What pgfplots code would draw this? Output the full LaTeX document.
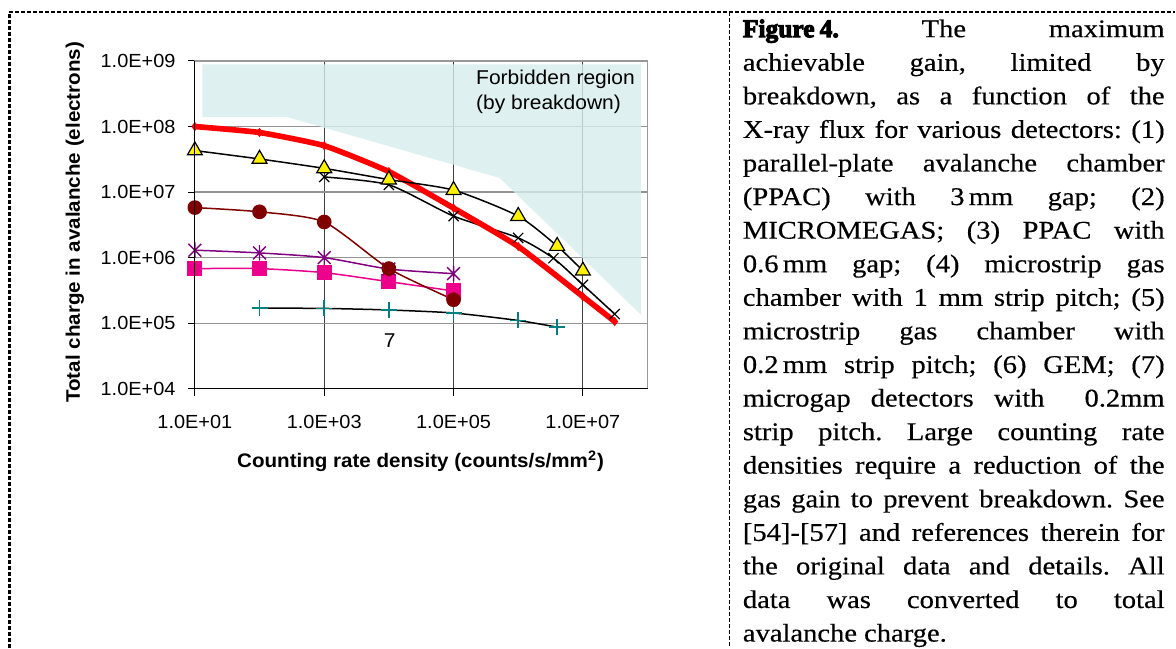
\documentclass[border=0pt]{standalone}
\usepackage{pgfplots}
\pgfplotsset{compat=1.18}
\usepackage{fontspec}
\setmainfont{Liberation Serif}
\newfontfamily\capfont[FakeStretch=1.12,FakeBold=0.4]{Liberation Serif}
\newfontfamily\figfont[FakeStretch=1.0,BoldFeatures={FakeBold=4}]{Liberation Serif}
\newfontfamily\chartfont[FakeStretch=1.05]{Liberation Sans}
\definecolor{forb}{RGB}{214,236,236}
\definecolor{maroonc}{RGB}{128,0,0}
\definecolor{purp}{RGB}{128,0,128}
\definecolor{tealc}{RGB}{0,128,128}
\pgfdeclareplotmark{xstar}{%
  \pgfpathmoveto{\pgfqpoint{-\pgfplotmarksize}{-\pgfplotmarksize}}%
  \pgfpathlineto{\pgfqpoint{\pgfplotmarksize}{\pgfplotmarksize}}%
  \pgfpathmoveto{\pgfqpoint{-\pgfplotmarksize}{\pgfplotmarksize}}%
  \pgfpathlineto{\pgfqpoint{\pgfplotmarksize}{-\pgfplotmarksize}}%
  \pgfpathmoveto{\pgfqpoint{0pt}{-1.2\pgfplotmarksize}}%
  \pgfpathlineto{\pgfqpoint{0pt}{1.2\pgfplotmarksize}}%
  \pgfusepathqstroke}
\newcommand\jl[1]{\hbox to 211pt{#1}}
\begin{document}
\begin{tikzpicture}
\path (0,0) rectangle (588pt,-324pt);
% dashed frame
\draw[line width=1.3pt, dash pattern=on 2pt off 1pt] (4.75pt,-324pt) -- (4.75pt,-6.15pt);
\draw[line width=0.8pt, dash pattern=on 2pt off 1pt] (4.75pt,-6.15pt) -- (588pt,-6.15pt);
\draw[line width=0.8pt, dash pattern=on 2pt off 1pt] (365pt,-6.15pt) -- (365pt,-324pt);
% caption
\node[anchor=base west, inner sep=0pt] at (371.5pt,-18.6pt) {\vtop{\hsize=211pt\capfont\fontsize{12.75}{16.8}\selectfont\baselineskip=16.8pt\frenchspacing\hbadness=10000
\jl{\hbox{\figfont\bfseries Figure\kern0.2em 4.} The maximum}
\jl{achievable gain, limited by}
\jl{breakdown, as a function of the}
\jl{X-ray flux for various detectors: (1)}
\jl{parallel-plate avalanche chamber}
\jl{(PPAC) with 3\,mm gap; (2)}
\jl{MICROMEGAS; (3) PPAC with}
\jl{0.6\,mm gap; (4) microstrip gas}
\jl{chamber with 1 mm strip pitch; (5)}
\jl{microstrip gas chamber with}
\jl{0.2\,mm strip pitch; (6) GEM; (7)}
\jl{microgap detectors with \ 0.2mm}
\jl{strip pitch. Large counting rate}
\jl{densities require a reduction of the}
\jl{gas gain to prevent breakdown. See}
\jl{[54]-[57] and references therein for}
\jl{the original data and details. All}
\jl{data was converted to total}
\hbox{avalanche charge.}}};
\begin{axis}[
 name=ax,
 at={(97.5pt,-194.5pt)}, anchor=south west,
 scale only axis, width=226.5pt, height=164pt,
 clip=false,
 xmode=log, ymode=log, xmin=10, xmax=1e8, ymin=1e4, ymax=1e9,
 xtick={1e1,1e3,1e5,1e7}, xticklabels={1.0E+01,1.0E+03,1.0E+05,1.0E+07},
 ytick={1e4,1e5,1e6,1e7,1e8,1e9},
 yticklabels={1.0E+04,1.0E+05,1.0E+06,1.0E+07,1.0E+08,1.0E+09},
 xminorticks=false, yminorticks=false,
 tick pos=left, tick align=outside, major tick length=3.5pt,
 tick style={black, line width=0.5pt},
 xmajorgrids, ymajorgrids,
 x grid style={black!75, line width=0.4pt},
 y grid style={gray!85, line width=0.6pt},
 axis line style={gray!80, line width=0.6pt},
 ticklabel style={font=\chartfont\fontsize{9.5}{11}\selectfont},
 xticklabel style={anchor=north, inner sep=0pt, yshift=-9.5pt},
 yticklabel style={anchor=east, inner sep=0pt, xshift=-6pt},
 xlabel={Counting rate density (counts/s/mm\textsuperscript{2})},
 ylabel={Total charge in avalanche (electrons)},
 label style={font=\chartfont\bfseries\fontsize{9.8}{12}\selectfont},
 xlabel style={at={(axis description cs:0.4985,-0.2409)}, anchor=base},
 ylabel style={at={(axis description cs:-0.254,0.508)}, anchor=base},
]
% forbidden region
\addplot[fill=forb, fill opacity=0.8, draw=none] coordinates {(13.06,8.85e8) (13.06,1.40e8) (264,1.40e8) (5.18e5,1.64e7) (7.96e7,1.34e5) (7.96e7,8.85e8) (13.06,8.85e8)};
\node[anchor=base west, inner sep=0pt, font=\chartfont\fontsize{10}{12}\selectfont] at (axis cs:2.21e5,4.3e8) {Forbidden region};
\node[anchor=base west, inner sep=0pt, font=\chartfont\fontsize{10}{12}\selectfont] at (axis cs:2.21e5,1.79e8) {(by breakdown)};
% 7 microgap
\addplot[black, line width=0.75pt, smooth, tension=0.4, mark=+, mark size=4pt, mark options={tealc, line width=0.75pt}] coordinates {(100,1.70e5) (1000,1.68e5) (1e4,1.59e5) (1e5,1.43e5) (1e6,1.1e5) (4e6,8.7e4)};
% 6 GEM squares
\addplot[magenta, line width=0.75pt, smooth, tension=0.4, mark=square*, mark size=3.4pt, mark options={fill=magenta, draw=magenta}] coordinates {(10,6.8e5) (100,6.8e5) (1000,5.9e5) (1e4,4.3e5) (1e5,3.1e5)};
% 5 stars
\addplot[purp, line width=0.75pt, smooth, tension=0.4, mark=xstar, mark size=3.2pt, mark options={purp, line width=0.7pt}] coordinates {(10,1.3e6) (100,1.18e6) (1000,1.0e6) (1e4,6.7e5) (1e5,5.7e5)};
% 4 circles
\addplot[maroonc, line width=0.75pt, smooth, tension=0.4, mark=*, mark size=3.3pt, mark options={fill=maroonc, draw=maroonc}] coordinates {(10,5.8e6) (100,5.0e6) (1000,3.5e6) (1e4,6.8e5) (1e5,2.28e5)};
% 3 PPAC 0.6 mm crosses
\addplot[black, line width=0.75pt, smooth, tension=0.4, mark=x, mark size=3.6pt, mark options={black, line width=0.6pt}] coordinates {(1000,1.7e7) (1e4,1.29e7) (1e5,4.3e6) (1e6,2.0e6) (3.5e6,9.8e5) (1e7,3.85e5) (3.1e7,1.38e5)};
% 1 PPAC 3 mm red
\addplot[red, line width=2.8pt, smooth, tension=0.3, mark=diamond*, mark size=2pt, mark options={red, line width=0.4pt}] coordinates {(10,1e8) (100,8.1e7) (1000,5.1e7) (1e4,2.05e7) (1e5,5.7e6) (1e6,1.48e6) (1e7,2.55e5) (3.1e7,1.06e5)};
% 2 MICROMEGAS triangles
\addplot[black, line width=0.75pt, smooth, tension=0.4, mark=triangle*, mark size=4.3pt, mark options={fill=yellow, draw=black, line width=0.6pt}] coordinates {(10,4.3e7) (100,3.2e7) (1000,2.3e7) (1e4,1.55e7) (1e5,1.07e7) (1e6,4.3e6) (4e6,1.5e6) (1e7,6.3e5)};
\node[font=\chartfont\fontsize{10}{12}\selectfont, inner sep=0pt] at (axis cs:1.03e4,5.4e4) {7};
\end{axis}
\draw[black, line width=0.6pt] (ax.north west) -- (ax.south west) -- (ax.south east);
\end{tikzpicture}
\end{document}
